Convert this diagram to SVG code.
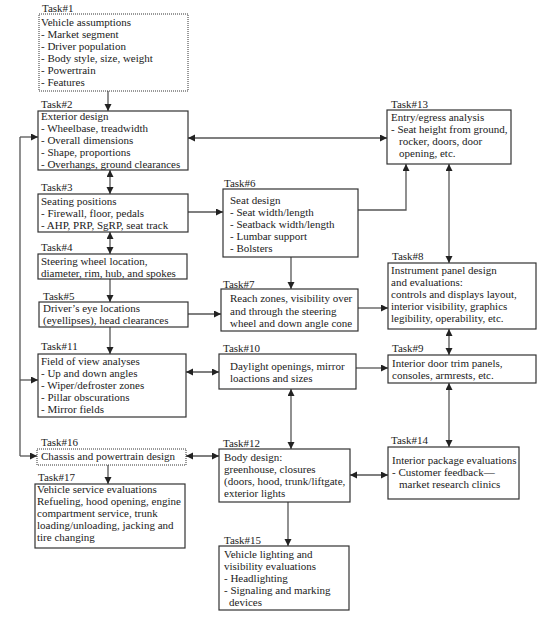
<svg xmlns="http://www.w3.org/2000/svg" width="537" height="618" viewBox="0 0 537 618">
<defs>
<marker id="ah" markerUnits="userSpaceOnUse" markerWidth="8" markerHeight="8" refX="7" refY="3.5" orient="auto-start-reverse">
<path d="M0,0 L7,3.5 L0,7 Z" fill="#222"/>
</marker>
<style>
text{font-family:"Liberation Serif","Times New Roman",serif;font-size:11px;fill:#222}
.box{fill:#fff;stroke:#333;stroke-width:1.2}
.dot{fill:#fff;stroke:#333;stroke-width:1;stroke-dasharray:1,1}
.c{fill:none;stroke:#555;stroke-width:1.3}
.e{marker-end:url(#ah)}
.b{marker-start:url(#ah);marker-end:url(#ah)}
</style>
</defs>
<rect width="537" height="618" fill="#fff"/>
<g id="connectors">
<path class="c e" d="M108,91 V111"/>
<path class="c b" d="M110,170 V194"/>
<path class="c b" d="M110,232 V254"/>
<path class="c e" d="M110,279 V302"/>
<path class="c e" d="M110,327 V354"/>
<path class="c e" d="M108,465 V484"/>
<path class="c" d="M20,137 V456"/>
<path class="c e" d="M20,137 H38"/>
<path class="c e" d="M20,380 H38"/>
<path class="c e" d="M20,456 H37"/>
<path class="c b" d="M188,138 H387"/>
<path class="c e" d="M188,212 H223"/>
<path class="c e" d="M358,210 H406 V164"/>
<path class="c e" d="M291,257 V289"/>
<path class="c e" d="M188,314 H221"/>
<path class="c e" d="M358,308 H388"/>
<path class="c b" d="M449,164 V263"/>
<path class="c b" d="M449,329 V355"/>
<path class="c e" d="M356,368 H388"/>
<path class="c b" d="M186,372 H219"/>
<path class="c b" d="M291,389 V449"/>
<path class="c b" d="M449,383 V447"/>
<path class="c b" d="M350,475 H388"/>
<path class="c b" d="M186,456 H219"/>
<path class="c e" d="M288,502 V546"/>
</g>
<g id="task1">
<text x="42" y="12">Task#1</text>
<rect class="dot" x="39" y="14" width="149" height="77"/>
<text x="41" y="26">Vehicle assumptions</text>
<text x="41" y="38">- Market segment</text>
<text x="41" y="50">- Driver population</text>
<text x="41" y="62">- Body style, size, weight</text>
<text x="41" y="74">- Powertrain</text>
<text x="41" y="86">- Features</text>
</g>
<g id="task2">
<text x="41" y="108">Task#2</text>
<rect class="box" x="38" y="111" width="150" height="59"/>
<text x="41" y="120">Exterior design</text>
<text x="41" y="132">- Wheelbase, treadwidth</text>
<text x="41" y="144">- Overall dimensions</text>
<text x="41" y="156">- Shape, proportions</text>
<text x="41" y="168">- Overhangs, ground clearances</text>
</g>
<g id="task3">
<text x="41" y="191">Task#3</text>
<rect class="box" x="38" y="194" width="150" height="38"/>
<text x="41" y="205">Seating positions</text>
<text x="41" y="217">- Firewall, floor, pedals</text>
<text x="41" y="229">- AHP, PRP, SgRP, seat track</text>
</g>
<g id="task4">
<text x="41" y="251">Task#4</text>
<rect class="box" x="38" y="254" width="149" height="25"/>
<text x="41" y="265">Steering wheel location,</text>
<text x="41" y="277">diameter, rim, hub, and spokes</text>
</g>
<g id="task5">
<text x="43" y="300">Task#5</text>
<rect class="box" x="39" y="302" width="149" height="25"/>
<text x="43" y="312">Driver’s eye locations</text>
<text x="43" y="324">(eyellipses), head clearances</text>
</g>
<g id="task11">
<text x="41" y="350">Task#11</text>
<rect class="box" x="38" y="354" width="148" height="63"/>
<text x="41" y="365">Field of view analyses</text>
<text x="41" y="377">- Up and down angles</text>
<text x="41" y="389">- Wiper/defroster zones</text>
<text x="41" y="401">- Pillar obscurations</text>
<text x="41" y="413">- Mirror fields</text>
</g>
<g id="task16">
<text x="41" y="446">Task#16</text>
<rect class="dot" x="37" y="449" width="149" height="16"/>
<text x="41" y="460">Chassis and powertrain design</text>
</g>
<g id="task17">
<text x="38" y="481">Task#17</text>
<rect class="box" x="35" y="484" width="150" height="64"/>
<text x="37" y="493">Vehicle service evaluations</text>
<text x="37" y="505">Refueling, hood opening, engine</text>
<text x="37" y="517">compartment service, trunk</text>
<text x="37" y="529">loading/unloading, jacking and</text>
<text x="37" y="541">tire changing</text>
</g>
<g id="task6">
<text x="224" y="187">Task#6</text>
<rect class="box" x="223" y="189" width="135" height="68"/>
<text x="230" y="204">Seat design</text>
<text x="230" y="216">- Seat width/length</text>
<text x="230" y="228">- Seatback width/length</text>
<text x="230" y="240">- Lumbar support</text>
<text x="230" y="252">- Bolsters</text>
</g>
<g id="task7">
<text x="223" y="288">Task#7</text>
<rect class="box" x="221" y="289" width="137" height="42"/>
<text x="230" y="302">Reach zones, visibility over</text>
<text x="230" y="314.5">and through the steering</text>
<text x="230" y="326.5">wheel and down angle cone</text>
</g>
<g id="task10">
<text x="223" y="352">Task#10</text>
<rect class="box" x="219" y="354" width="137" height="35"/>
<text x="230" y="370">Daylight openings, mirror</text>
<text x="230" y="382">loactions and sizes</text>
</g>
<g id="task12">
<text x="223" y="447">Task#12</text>
<rect class="box" x="219" y="449" width="131" height="53"/>
<text x="224" y="461">Body design:</text>
<text x="224" y="473">greenhouse, closures</text>
<text x="224" y="485">(doors, hood, trunk/liftgate,</text>
<text x="224" y="497">exterior lights</text>
</g>
<g id="task15">
<text x="224" y="544">Task#15</text>
<rect class="box" x="219" y="546" width="130" height="64"/>
<text x="224" y="558">Vehicle lighting and</text>
<text x="224" y="570">visibility evaluations</text>
<text x="224" y="582">- Headlighting</text>
<text x="224" y="594">- Signaling and marking</text>
<text x="229" y="606">devices</text>
</g>
<g id="task13">
<text x="391" y="108">Task#13</text>
<rect class="box" x="387" y="110" width="124" height="54"/>
<text x="391" y="121">Entry/egress analysis</text>
<text x="391" y="133">- Seat height from ground,</text>
<text x="399" y="145">rocker, doors, door</text>
<text x="399" y="157">opening, etc.</text>
</g>
<g id="task8">
<text x="392" y="260">Task#8</text>
<rect class="box" x="388" y="263" width="148" height="66"/>
<text x="391" y="274">Instrument panel design</text>
<text x="391" y="286">and evaluations:</text>
<text x="391" y="298">controls and displays layout,</text>
<text x="391" y="310">interior visibility, graphics</text>
<text x="391" y="322">legibility, operability, etc.</text>
</g>
<g id="task9">
<text x="392" y="352">Task#9</text>
<rect class="box" x="388" y="355" width="148" height="28"/>
<text x="392" y="367">Interior door trim panels,</text>
<text x="392" y="379">consoles, armrests, etc.</text>
</g>
<g id="task14">
<text x="391" y="444">Task#14</text>
<rect class="box" x="388" y="447" width="131" height="52"/>
<text x="392" y="464">Interior package evaluations</text>
<text x="392" y="476">- Customer feedback—</text>
<text x="399" y="488">market research clinics</text>
</g>
</svg>
